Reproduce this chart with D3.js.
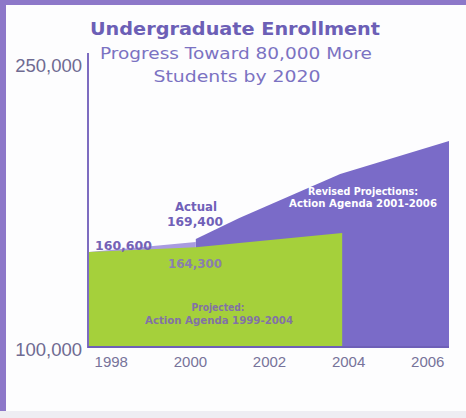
<!DOCTYPE html>
<html>
<head>
<meta charset="utf-8">
<script src="https://cdn.jsdelivr.net/npm/d3@7"></script>
<style>
  body { margin: 0; background: #fff; }
  svg { display: block; }
</style>
</head>
<body>
<script>
// values as drawn in the picture (the chart is not to scale with its own labels)
var yearTicks = [1998, 2000, 2002, 2004, 2006];
var valueTicks = [100000, 250000];

var projectedYears = [1997.45, 2000.15, 2003.85];
var projectedValues = [150700, 153300, 160900];

var actualYears = [1997.45, 2000.15];
var actualValues = [150700, 156000];

var revisedYears = [2000.15, 2001.25, 2003.8, 2006.55];
var revisedValues = [157700, 168900, 192400, 210000];

var callouts = ["160,600", "164,300", "169,400"];

var width = 466,
  height = 418;

var x = d3.scaleLinear().domain([1997.45, 2006.55]).range([89, 449]);
var y = d3.scaleLinear().domain([100000, 250000]).range([347, 66]);

var svg = d3.select("body").append("svg")
  .attr("width", width)
  .attr("height", height);

// frame
svg.append("rect").attr("width", width).attr("height", height).attr("fill", "#fdfdfe");
svg.append("rect").attr("width", width).attr("height", 5).attr("fill", "#8d78c9");
svg.append("rect").attr("width", 6).attr("height", height).attr("fill", "#8d78c9");
svg.append("rect").attr("y", 411).attr("width", width).attr("height", 7).attr("fill", "#eeedf3");

var area = d3.area()
  .x(function (d) { return x(d[0]); })
  .y0(y(100000))
  .y1(function (d) { return y(d[1]); });

function pairs(a, b) { return a.map(function (v, i) { return [v, b[i]]; }); }

svg.append("path")
  .attr("d", area(pairs(revisedYears, revisedValues)))
  .attr("fill", "#7a6bc8");

svg.append("path")
  .attr("d", area(pairs(actualYears, actualValues)))
  .attr("fill", "#a99be0");

svg.append("path")
  .attr("d", area(pairs(projectedYears, projectedValues)))
  .attr("fill", "#a5d03b");

// axes
svg.append("line")
  .attr("x1", 88).attr("x2", 88).attr("y1", 53).attr("y2", y(100000) + 1)
  .attr("stroke", "#7d6cc0").attr("stroke-width", 2);
svg.append("line")
  .attr("x1", 88).attr("x2", x(2006.55)).attr("y1", y(100000)).attr("y2", y(100000))
  .attr("stroke", "#6e5fb8").attr("stroke-width", 2);

var yAxis = svg.append("g")
  .attr("transform", "translate(82,0)")
  .call(d3.axisLeft(y).tickValues(valueTicks).tickSize(0).tickFormat(d3.format(",")));
yAxis.select(".domain").remove();
yAxis.selectAll("text")
  .attr("x", 0)
  .attr("dy", function (d) { return d === 100000 ? "0.45em" : "0.32em"; })
  .style("font-family", "Liberation Sans, sans-serif")
  .style("font-size", "18.5px")
  .attr("fill", "#6f6b92");

var xAxis = svg.append("g")
  .attr("transform", "translate(0," + y(100000) + ")")
  .call(d3.axisBottom(x).tickValues(yearTicks).tickSize(0).tickFormat(d3.format("d")));
xAxis.select(".domain").remove();
xAxis.selectAll("text")
  .attr("y", 9)
  .style("font-family", "Liberation Sans, sans-serif")
  .style("font-size", "15px")
  .attr("fill", "#77739a");

// titles
svg.append("text")
  .attr("x", 235).attr("y", 35)
  .attr("text-anchor", "middle")
  .attr("textLength", 290)
  .attr("lengthAdjust", "spacingAndGlyphs")
  .style("font-family", "DejaVu Sans, sans-serif")
  .style("font-weight", "bold")
  .style("font-size", "18px")
  .attr("fill", "#6c5fb6")
  .text("Undergraduate Enrollment");

svg.append("text")
  .attr("x", 236).attr("y", 59)
  .attr("text-anchor", "middle")
  .attr("textLength", 272)
  .attr("lengthAdjust", "spacingAndGlyphs")
  .style("font-family", "DejaVu Sans, sans-serif")
  .style("font-size", "16px")
  .attr("fill", "#7b72c2")
  .text("Progress Toward 80,000 More");

svg.append("text")
  .attr("x", 237).attr("y", 82)
  .attr("text-anchor", "middle")
  .attr("textLength", 167)
  .attr("lengthAdjust", "spacingAndGlyphs")
  .style("font-family", "DejaVu Sans, sans-serif")
  .style("font-size", "16px")
  .attr("fill", "#7b72c2")
  .text("Students by 2020");

// callouts
function label(tx, ty, str, size, color, len) {
  var t = svg.append("text")
    .attr("x", tx).attr("y", ty)
    .attr("text-anchor", "middle")
    .style("font-family", "DejaVu Sans, sans-serif")
    .style("font-weight", "bold")
    .style("font-size", size + "px")
    .attr("fill", color)
    .text(str);
  if (len) t.attr("textLength", len).attr("lengthAdjust", "spacingAndGlyphs");
}

label(123.5, 250, callouts[0], 13, "#7462b6", 57);
label(195, 268, callouts[1], 13, "#8a7fae", 54);
label(196, 211, "Actual", 13, "#7060b8", 42);
label(195, 226, callouts[2], 13, "#7060b8", 56);

label(363, 195, "Revised Projections:", 10.5, "#ffffff", 110);
label(363, 207, "Action Agenda 2001-2006", 10.5, "#ffffff", 148);

label(218, 311, "Projected:", 10, "#8272a6", 53);
label(219, 324, "Action Agenda 1999-2004", 10, "#8272a6", 148);
</script>
</body>
</html>
